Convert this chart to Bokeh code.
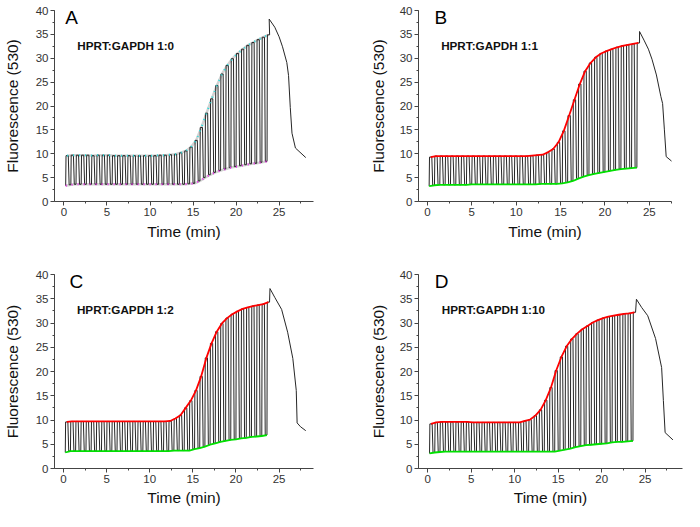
from bokeh.plotting import figure
from bokeh.layouts import column, row
from bokeh.models import Range1d, SingleIntervalTicker, Label
from bokeh.embed import file_html
from bokeh.resources import INLINE

# ---------------- data ----------------
n_cycles = 40
cycle_period = 0.6
cycle_start = 0.2

upper_A = [9.6, 9.7, 9.7, 9.7, 9.7, 9.6, 9.7, 9.7, 9.7, 9.6,
           9.6, 9.6, 9.6, 9.6, 9.6, 9.6, 9.6, 9.6, 9.7, 9.7,
           9.8, 9.9, 10.2, 10.6, 11.4, 12.8, 15.5, 18.5, 21.5, 24.3,
           26.7, 28.5, 29.9, 31.0, 31.9, 32.7, 33.3, 33.9, 34.4, 34.9]
lower_A = [3.3, 3.5, 3.6, 3.6, 3.6, 3.6, 3.6, 3.6, 3.6, 3.6,
           3.6, 3.6, 3.6, 3.6, 3.6, 3.6, 3.6, 3.6, 3.6, 3.6,
           3.6, 3.6, 3.6, 3.6, 3.7, 3.8, 4.3, 5.0, 5.6, 6.1,
           6.5, 6.8, 7.1, 7.3, 7.5, 7.7, 7.9, 8.0, 8.2, 8.4]
melt_t_A = [23.85, 24.5, 25.0, 25.4, 25.9, 26.1, 26.3, 26.5, 26.9, 28.1]
melt_A = [38.2, 36.5, 34.5, 32.4, 29.1, 26.4, 19.7, 14.3, 11.2, 9.2]

upper_B = [9.3, 9.5, 9.5, 9.5, 9.5, 9.5, 9.5, 9.5, 9.5, 9.5,
           9.5, 9.5, 9.5, 9.5, 9.5, 9.5, 9.5, 9.5, 9.5, 9.6,
           9.7, 9.8, 10.3, 11.0, 12.4, 14.8, 18.0, 21.3, 24.6, 27.3,
           29.0, 30.2, 31.0, 31.5, 31.9, 32.3, 32.6, 32.8, 33.0, 33.2]
lower_B = [3.2, 3.4, 3.5, 3.5, 3.5, 3.5, 3.5, 3.5, 3.6, 3.6,
           3.6, 3.6, 3.6, 3.6, 3.6, 3.6, 3.6, 3.6, 3.6, 3.6,
           3.6, 3.7, 3.7, 3.7, 3.7, 3.8, 4.0, 4.3, 4.8, 5.2,
           5.5, 5.8, 6.0, 6.2, 6.4, 6.6, 6.8, 6.9, 7.0, 7.1]
melt_t_B = [23.9, 24.4, 24.9, 25.3, 25.8, 26.3, 26.5, 26.7, 26.9, 27.8]
melt_B = [35.6, 33.8, 31.9, 29.8, 26.5, 22.0, 20.5, 15.0, 9.4, 8.0]

upper_C = [9.6, 9.7, 9.7, 9.7, 9.7, 9.7, 9.7, 9.7, 9.7, 9.7,
           9.7, 9.7, 9.7, 9.7, 9.7, 9.7, 9.7, 9.7, 9.7, 9.7,
           9.8, 10.3, 11.0, 12.5, 14.0, 16.1, 19.0, 22.8, 25.8, 28.2,
           29.9, 31.0, 31.8, 32.4, 32.9, 33.2, 33.5, 33.7, 33.9, 34.3]
lower_C = [3.3, 3.6, 3.6, 3.6, 3.6, 3.6, 3.6, 3.6, 3.6, 3.6,
           3.6, 3.6, 3.6, 3.6, 3.6, 3.6, 3.6, 3.6, 3.6, 3.6,
           3.6, 3.7, 3.7, 3.7, 3.7, 4.0, 4.2, 4.5, 4.9, 5.2,
           5.5, 5.7, 5.9, 6.0, 6.2, 6.3, 6.5, 6.6, 6.7, 6.9]
melt_t_C = [23.95, 24.5, 25.3, 26.0, 26.6, 27.0, 27.1, 27.5, 28.1]
melt_C = [37.1, 35.3, 32.8, 28.1, 22.7, 16.1, 9.4, 8.6, 7.8]

upper_D = [9.2, 9.5, 9.6, 9.6, 9.6, 9.6, 9.6, 9.6, 9.5, 9.5,
           9.5, 9.5, 9.5, 9.5, 9.5, 9.5, 9.5, 9.5, 9.8, 10.1,
           10.9, 12.1, 14.1, 16.7, 20.2, 23.0, 25.2, 26.7, 27.8, 28.7,
           29.4, 30.1, 30.6, 31.0, 31.3, 31.5, 31.7, 31.9, 32.0, 32.2]
lower_D = [3.1, 3.3, 3.4, 3.5, 3.5, 3.5, 3.5, 3.5, 3.5, 3.5,
           3.5, 3.5, 3.5, 3.5, 3.5, 3.5, 3.5, 3.5, 3.5, 3.5,
           3.5, 3.5, 3.5, 3.5, 3.5, 3.7, 3.9, 4.1, 4.4, 4.6,
           4.8, 4.9, 5.0, 5.1, 5.2, 5.4, 5.5, 5.5, 5.6, 5.7]
melt_t_D = [24.0, 24.6, 25.3, 26.2, 26.9, 27.1, 27.3, 28.2]
melt_D = [34.9, 33.2, 31.5, 26.8, 20.8, 14.0, 7.4, 5.9]

letters = ["A", "B", "C", "D"]
ratios = ["HPRT:GAPDH 1:0", "HPRT:GAPDH 1:1", "HPRT:GAPDH 1:2", "HPRT:GAPDH 1:10"]

FONT = "Liberation Sans"


def build_trace(upper, lower, melt_t, melt_v):
    xs, ys = [], []
    ux, lx = [], []
    for i in range(n_cycles):
        t = cycle_start + i * cycle_period
        xs += [t, t + 0.04, t + 0.30]
        ys += [lower[i], upper[i], upper[i]]
        if i + 1 < n_cycles:
            xs += [t + 0.40]
            ys += [lower[i + 1]]
        lx.append(t)
        ux.append(t + 0.17)
    xs += list(melt_t)
    ys += list(melt_v)
    return xs, ys, ux, lx


def make_panel(letter, ratio, upper, lower, melt_t, melt_v, xr, size, borders,
               ylabel_standoff, xlabel_standoff, style, letter_x, ratio_x):
    left, right, top, bottom = borders
    p = figure(width=size[0], height=size[1], output_backend="svg", toolbar_location=None,
               x_range=Range1d(*xr), y_range=Range1d(0, 40),
               min_border_left=left, min_border_right=right,
               min_border_top=top, min_border_bottom=bottom,
               background_fill_color="white", border_fill_color="white")
    p.outline_line_color = None
    p.grid.visible = False
    p.xaxis.axis_label = "Time (min)"
    p.yaxis.axis_label = "Fluorescence (530)"
    p.xaxis.ticker = SingleIntervalTicker(interval=5, num_minor_ticks=2)
    p.yaxis.ticker = SingleIntervalTicker(interval=5, num_minor_ticks=2)
    for ax in (p.xaxis, p.yaxis):
        ax.axis_line_color = "#444444"
        ax.major_tick_line_color = "#444444"
        ax.minor_tick_line_color = "#444444"
        ax.major_tick_out = 4
        ax.major_tick_in = 0
        ax.minor_tick_out = 2
        ax.minor_tick_in = 0
        ax.major_label_standoff = 2
        ax.major_label_text_font = FONT
        ax.major_label_text_font_size = "11.5px"
        ax.major_label_text_color = "#333333"
        ax.axis_label_text_font = FONT
        ax.axis_label_text_font_size = "15.5px"
        ax.axis_label_text_font_style = "normal"
        ax.axis_label_text_color = "#111111"
    p.yaxis.axis_label_standoff = ylabel_standoff
    p.xaxis.axis_label_standoff = xlabel_standoff

    xs, ys, ux, lx = build_trace(upper, lower, melt_t, melt_v)

    if style == "dotted":
        p.line(ux, upper, line_color="#d2d2d2", line_width=2.5)
        p.line(lx, lower, line_color="#d2d2d2", line_width=2.5)
    p.line(xs, ys, line_color="#262626", line_width=1)
    if style == "dotted":
        p.line(ux, upper, line_color="#22dddd", line_width=2, line_dash="1 5")
        p.line(lx, lower, line_color="#ee22ee", line_width=2, line_dash="1 5")
    else:
        p.line(ux, upper, line_color="#ff0000", line_width=1.8)
        p.line(lx, lower, line_color="#00e000", line_width=1.8)

    p.add_layout(Label(x=letter_x, y=38.5, text=letter, text_font=FONT,
                       text_font_size="19px", text_color="black",
                       text_baseline="alphabetic"))
    p.add_layout(Label(x=ratio_x, y=32.7, text=ratio, text_font=FONT,
                       text_font_size="11.7px", text_font_style="bold",
                       text_color="#111111", text_baseline="alphabetic"))
    return p


pA = make_panel(letters[0], ratios[0], upper_A, lower_A, melt_t_A, melt_A,
                (-1.1, 29.0), (342, 252), (47, 29, 9, 51), 12, 4, "dotted", 0.15, 1.55)
pB = make_panel(letters[1], ratios[1], upper_B, lower_B, melt_t_B, melt_B,
                (-1.0, 27.5), (342, 252), (76, 13, 10, 51), 10, 4, "solid", 0.8, 1.55)
pC = make_panel(letters[2], ratios[2], upper_C, lower_C, melt_t_C, melt_C,
                (-1.05, 29.0), (342, 258), (48, 29, 22, 42), 12, 3, "solid", 0.7, 1.55)
pD = make_panel(letters[3], ratios[3], upper_D, lower_D, melt_t_D, melt_D,
                (-1.07, 29.3), (342, 258), (76, 2, 22, 42), 10, 3, "solid", 0.8, 1.6)

layout = column(row(pA, pB, spacing=0), row(pC, pD, spacing=0), spacing=0)

open("out.html", "w").write(file_html(layout, INLINE))
